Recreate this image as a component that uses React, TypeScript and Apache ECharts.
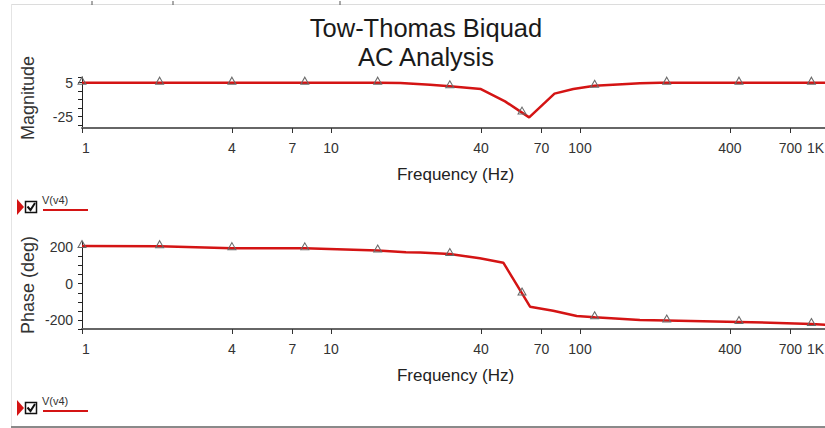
import React, { useEffect, useRef } from "react";
import * as echarts from "echarts";

// ---- data ----
const freqTicks = [1, 4, 7, 10, 40, 70, 100, 400, 700, 1000];
const markerFreqs = [1, 2.05, 4, 7.85, 15.4, 30, 58.5, 114.5, 223, 435, 850];

const magFreqs = [1, 2.05, 4, 7.85, 15.4, 19, 25, 30, 40, 50, 58.5, 62.5, 79, 94, 114.5, 154, 174, 210, 223, 435, 850, 1000];
const magValues = [5, 5, 5, 5, 5, 4.7, 3.2, 1.8, -0.6, -11.5, -21.4, -25.6, -4.7, -0.6, 2.3, 3.9, 4.4, 4.9, 5, 5, 5, 5];
const magLabelTicks = [5, -25];
const magTicks = [10, 5, -2.5, -10, -17.5, -25, -32.5];

const phaseFreqs = [1, 2.05, 4, 7.85, 15.4, 20, 22.8, 30, 39.6, 49.2, 58.5, 63, 78, 97, 114.5, 174, 223, 435, 850, 1000];
const phaseValues = [208, 207, 196, 195, 183, 174, 172, 164, 140, 116, -54, -127, -149, -178, -185, -200, -203, -211, -222, -228];
const phaseLabelTicks = [200, 0, -200];
const phaseTicks = [200, 150, 100, 50, 0, -50, -100, -150, -200, -250];

const titleLines = ["Tow-Thomas Biquad", "AC Analysis"];
const seriesName = "V(v4)";

const FONT = "'Liberation Sans', Arial, sans-serif";
const RED = "#d41414";

function legendItem(y: number) {
  return {
    type: "group",
    x: 0,
    y,
    children: [
      { type: "polygon", shape: { points: [[17, -8], [24, 0], [17, 8]] }, style: { fill: RED } },
      { type: "rect", shape: { x: 25.5, y: -5.5, width: 11, height: 11 }, style: { fill: "#fff", stroke: "#111", lineWidth: 1.5 } },
      { type: "polyline", shape: { points: [[27.5, -0.5], [30.5, 3], [35, -4]] }, style: { stroke: "#111", lineWidth: 2, fill: null } },
      { type: "text", x: 42, y: -7, style: { text: seriesName, fontSize: 11, fill: "#333", fontFamily: FONT, verticalAlign: "middle" } },
      { type: "line", shape: { x1: 43, y1: 3, x2: 88, y2: 3 }, style: { stroke: RED, lineWidth: 2 } },
    ],
  };
}

export default function App() {
  const ref = useRef<HTMLDivElement>(null);
  useEffect(() => {
    if (!ref.current) return;
    const chart = echarts.init(ref.current, undefined, { renderer: "svg" });
    const markerSymbol = (val: number[]) => (markerFreqs.includes(val[0]) ? "triangle" : "none");
    const xAxisBase = (gridIndex: number) => ({
      type: "log",
      logBase: 10,
      gridIndex,
      min: 1,
      max: 1000,
      name: "Frequency (Hz)",
      nameLocation: "middle",
      nameGap: 38,
      nameTextStyle: { fontSize: 17, color: "#222", fontFamily: FONT },
      axisLine: { show: true, onZero: false, lineStyle: { color: "#666", width: 2 } },
      axisTick: { show: true, customValues: freqTicks, length: 5, lineStyle: { color: "#333" } },
      axisLabel: {
        customValues: freqTicks,
        fontSize: 14,
        color: "#333",
        fontFamily: FONT,
        margin: 13,
        alignMinLabel: "left",
        alignMaxLabel: "right",
        formatter: (v: number) => (v >= 1000 ? "{k|1K}" : String(Math.round(v))),
        rich: { k: { fontSize: 14, color: "#333", fontFamily: FONT, padding: [0, 5, 0, 0] } },
      },
      splitLine: { show: false },
      minorTick: { show: false },
    });
    const yAxisBase = (gridIndex: number, min: number, max: number, labels: number[], ticks: number[]) => ({
      type: "value",
      gridIndex,
      min,
      max,
      axisLine: { show: true, onZero: false, lineStyle: { color: "#222", width: 1 } },
      axisTick: { show: true, customValues: ticks, length: 4, lineStyle: { color: "#222" } },
      axisLabel: { customValues: labels, fontSize: 14, color: "#333", fontFamily: FONT, margin: 9 },
      splitLine: { show: false },
    });
    const lineSeries = (idx: number, fs: number[], vs: number[]) => ({
      type: "line",
      name: seriesName,
      xAxisIndex: idx,
      yAxisIndex: idx,
      data: fs.map((f, i) => [f, vs[i]]),
      symbol: markerSymbol,
      symbolSize: [8, 7],
      symbolOffset: [0, -2],
      showSymbol: true,
      itemStyle: { color: "rgba(255,255,255,0)", borderColor: "#6a6a6a", borderWidth: 1 },
      lineStyle: { color: RED, width: 2.5 },
      silent: true,
      emphasis: { disabled: true },
    });
    chart.setOption({
      animation: false,
      backgroundColor: "#fff",
      textStyle: { fontFamily: FONT },
      title: {
        text: titleLines.join("\n"),
        left: 421,
        top: 8,
        textAlign: "center",
        textStyle: { fontSize: 25.5, fontWeight: "normal", lineHeight: 29, color: "#1a1a1a", fontFamily: FONT },
      },
      grid: [
        { left: 82, top: 77, width: 747, height: 51, outerBoundsMode: "none", containLabel: false },
        { left: 82, top: 242, width: 747, height: 87, outerBoundsMode: "none", containLabel: false },
      ],
      xAxis: [xAxisBase(0), xAxisBase(1)],
      yAxis: [
        yAxisBase(0, -35, 10, magLabelTicks, magTicks),
        yAxisBase(1, -250, 230, phaseLabelTicks, phaseTicks),
      ],
      series: [lineSeries(0, magFreqs, magValues), lineSeries(1, phaseFreqs, phaseValues)],
      graphic: [
        { type: "text", x: 28, y: 98, rotation: Math.PI / 2, style: { text: "Magnitude", fontSize: 18, fill: "#333", fontFamily: FONT, align: "center", verticalAlign: "middle" } },
        { type: "text", x: 28, y: 285, rotation: Math.PI / 2, style: { text: "Phase (deg)", fontSize: 18, fill: "#333", fontFamily: FONT, align: "center", verticalAlign: "middle" } },
        legendItem(207),
        legendItem(408),
        { type: "line", shape: { x1: 11, y1: 4.5, x2: 825, y2: 4.5 }, style: { stroke: "#dcdcdc", lineWidth: 1 } },
        { type: "line", shape: { x1: 11.5, y1: 4, x2: 11.5, y2: 427 }, style: { stroke: "#e4e4e4", lineWidth: 1 } },
        { type: "line", shape: { x1: 11, y1: 427, x2: 825, y2: 427 }, style: { stroke: "#8a8a8a", lineWidth: 2 } },
        { type: "line", shape: { x1: 92, y1: 1, x2: 92, y2: 5 }, style: { stroke: "#555", lineWidth: 1 } },
        { type: "line", shape: { x1: 173, y1: 1, x2: 173, y2: 5 }, style: { stroke: "#555", lineWidth: 1 } },
        { type: "line", shape: { x1: 340, y1: 1, x2: 340, y2: 5 }, style: { stroke: "#555", lineWidth: 1 } },
      ],
    });
    return () => chart.dispose();
  }, []);
  return <div ref={ref} style={{ position: "fixed", left: 0, top: 0, width: 825, height: 428 }} />;
}
